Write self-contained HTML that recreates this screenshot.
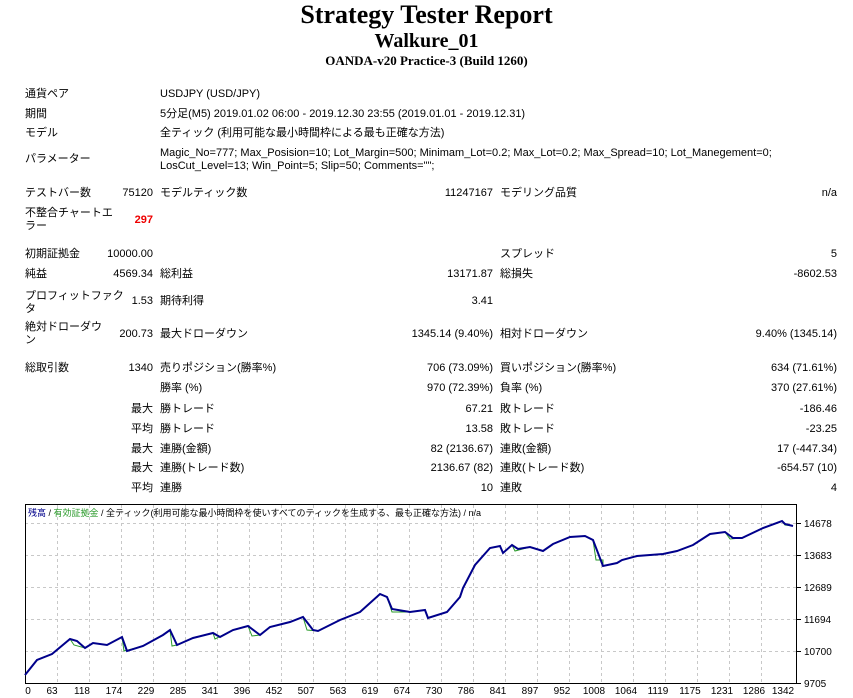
<!DOCTYPE html>
<html><head><meta charset="utf-8"><style>
body{margin:0;width:853px;height:698px;background:#fff;position:relative;overflow:hidden;font-family:"Liberation Sans","Noto Sans CJK JP",sans-serif;font-size:11px;color:#000}
div{position:absolute;white-space:nowrap;line-height:13px}
.t{font-family:"Liberation Serif",serif;font-weight:bold;left:0;width:853px;text-align:center}
.a{right:700px}.b{right:360px}.c{right:16px}
.L{left:25px}.M{left:160px}.N{left:500px}
</style></head><body>
<div class="t" style="top:0;font-size:26px;line-height:30px">Strategy Tester Report</div>
<div class="t" style="top:30px;font-size:20px;line-height:22px">Walkure_01</div>
<div class="t" style="top:53px;font-size:13px;line-height:15px">OANDA-v20 Practice-3 (Build 1260)</div>

<div class="L" style="top:88px">通貨ペア</div><div class="M" style="top:88px">USDJPY (USD/JPY)</div>
<div class="L" style="top:108px">期間</div><div class="M" style="top:108px">5分足(M5) 2019.01.02 06:00 - 2019.12.30 23:55 (2019.01.01 - 2019.12.31)</div>
<div class="L" style="top:127px">モデル</div><div class="M" style="top:127px">全ティック (利用可能な最小時間枠による最も正確な方法)</div>
<div class="L" style="top:153px">パラメーター</div>
<div class="M" style="top:147px">Magic_No=777; Max_Posision=10; Lot_Margin=500; Minimam_Lot=0.2; Max_Lot=0.2; Max_Spread=10; Lot_Manegement=0;</div>
<div class="M" style="top:160px">LosCut_Level=13; Win_Point=5; Slip=50; Comments="";</div>

<div class="L" style="top:187px">テストバー数</div><div class="a" style="top:187px">75120</div><div class="M" style="top:187px">モデルティック数</div><div class="b" style="top:187px">11247167</div><div class="N" style="top:187px">モデリング品質</div><div class="c" style="top:187px">n/a</div>
<div class="L" style="top:207px">不整合チャートエ</div><div class="L" style="top:220px">ラー</div><div class="a" style="top:214px;color:#e00;font-weight:bold">297</div>

<div class="L" style="top:248px">初期証拠金</div><div class="a" style="top:248px">10000.00</div><div class="N" style="top:248px">スプレッド</div><div class="c" style="top:248px">5</div>
<div class="L" style="top:268px">純益</div><div class="a" style="top:268px">4569.34</div><div class="M" style="top:268px">総利益</div><div class="b" style="top:268px">13171.87</div><div class="N" style="top:268px">総損失</div><div class="c" style="top:268px">-8602.53</div>
<div class="L" style="top:290px">プロフィットファク</div><div class="L" style="top:303px">タ</div><div class="a" style="top:295px">1.53</div><div class="M" style="top:295px">期待利得</div><div class="b" style="top:295px">3.41</div>
<div class="L" style="top:321px">絶対ドローダウ</div><div class="L" style="top:334px">ン</div><div class="a" style="top:328px">200.73</div><div class="M" style="top:328px">最大ドローダウン</div><div class="b" style="top:328px">1345.14 (9.40%)</div><div class="N" style="top:328px">相対ドローダウン</div><div class="c" style="top:328px">9.40% (1345.14)</div>

<div class="L" style="top:362px">総取引数</div><div class="a" style="top:362px">1340</div><div class="M" style="top:362px">売りポジション(勝率%)</div><div class="b" style="top:362px">706 (73.09%)</div><div class="N" style="top:362px">買いポジション(勝率%)</div><div class="c" style="top:362px">634 (71.61%)</div>
<div class="M" style="top:382px">勝率 (%)</div><div class="b" style="top:382px">970 (72.39%)</div><div class="N" style="top:382px">負率 (%)</div><div class="c" style="top:382px">370 (27.61%)</div>
<div class="a" style="top:403px">最大</div><div class="M" style="top:403px">勝トレード</div><div class="b" style="top:403px">67.21</div><div class="N" style="top:403px">敗トレード</div><div class="c" style="top:403px">-186.46</div>
<div class="a" style="top:423px">平均</div><div class="M" style="top:423px">勝トレード</div><div class="b" style="top:423px">13.58</div><div class="N" style="top:423px">敗トレード</div><div class="c" style="top:423px">-23.25</div>
<div class="a" style="top:443px">最大</div><div class="M" style="top:443px">連勝(金額)</div><div class="b" style="top:443px">82 (2136.67)</div><div class="N" style="top:443px">連敗(金額)</div><div class="c" style="top:443px">17 (-447.34)</div>
<div class="a" style="top:462px">最大</div><div class="M" style="top:462px">連勝(トレード数)</div><div class="b" style="top:462px">2136.67 (82)</div><div class="N" style="top:462px">連敗(トレード数)</div><div class="c" style="top:462px">-654.57 (10)</div>
<div class="a" style="top:482px">平均</div><div class="M" style="top:482px">連勝</div><div class="b" style="top:482px">10</div><div class="N" style="top:482px">連敗</div><div class="c" style="top:482px">4</div>

<svg style="position:absolute;left:0;top:0" width="853" height="698">
<g stroke="#c8c8c8" stroke-dasharray="3,3" stroke-width="1">
<line x1="25" x2="797" y1="523.5" y2="523.5"/><line x1="25" x2="797" y1="555.5" y2="555.5"/><line x1="25" x2="797" y1="587.5" y2="587.5"/><line x1="25" x2="797" y1="619.5" y2="619.5"/><line x1="25" x2="797" y1="651.5" y2="651.5"/>
<line y1="505" y2="683" x1="57.5" x2="57.5"/><line y1="505" y2="683" x1="89.5" x2="89.5"/><line y1="505" y2="683" x1="121.5" x2="121.5"/><line y1="505" y2="683" x1="153.5" x2="153.5"/><line y1="505" y2="683" x1="185.5" x2="185.5"/><line y1="505" y2="683" x1="217.5" x2="217.5"/><line y1="505" y2="683" x1="249.5" x2="249.5"/><line y1="505" y2="683" x1="281.5" x2="281.5"/><line y1="505" y2="683" x1="313.5" x2="313.5"/><line y1="505" y2="683" x1="345.5" x2="345.5"/><line y1="505" y2="683" x1="377.5" x2="377.5"/><line y1="505" y2="683" x1="409.5" x2="409.5"/><line y1="505" y2="683" x1="441.5" x2="441.5"/><line y1="505" y2="683" x1="473.5" x2="473.5"/><line y1="505" y2="683" x1="505.5" x2="505.5"/><line y1="505" y2="683" x1="537.5" x2="537.5"/><line y1="505" y2="683" x1="569.5" x2="569.5"/><line y1="505" y2="683" x1="601.5" x2="601.5"/><line y1="505" y2="683" x1="633.5" x2="633.5"/><line y1="505" y2="683" x1="665.5" x2="665.5"/><line y1="505" y2="683" x1="697.5" x2="697.5"/><line y1="505" y2="683" x1="729.5" x2="729.5"/><line y1="505" y2="683" x1="761.5" x2="761.5"/>
</g>
<rect x="25.5" y="504.5" width="771" height="179" fill="none" stroke="#000"/>
<g stroke="#000"><line x1="797" x2="801" y1="523.5" y2="523.5"/><line x1="797" x2="801" y1="555.5" y2="555.5"/><line x1="797" x2="801" y1="587.5" y2="587.5"/><line x1="797" x2="801" y1="619.5" y2="619.5"/><line x1="797" x2="801" y1="651.5" y2="651.5"/><line x1="797" x2="801" y1="683.5" y2="683.5"/></g>
<polyline fill="none" stroke="#2a9a2a" stroke-width="1" points="25,675 37,660 52,654 70,639 74,645 85,648 93,643 107,645 122,637 124,651 143,646 163,635 170,630 172,646 177,645 193,638 213,633 215,639 233,630 248,626 252,636 260,635 270,627 290,622 303,617 307,630 318,631 340,620 360,612 380,594 387,597 392,612 410,612 425,610 428,618 447,612 460,597 463,588 475,565 490,548 500,546 503,553 512,545 515,551 530,547 543,551 553,544 570,537 585,536 593,540 596,560 603,560 603,566 617,563 622,560 637,556 650,555 663,554 677,551 693,545 710,534 725,532 730,539 742,538 763,528 782,521 785,525 793,526"/>
<polyline fill="none" stroke="#00008b" stroke-width="2" points="25,675 37,660 52,654 70,639 77,641 85,648 93,643 107,645 122,637 127,651 143,646 163,635 170,630 177,645 193,638 213,633 220,637 233,630 248,626 260,635 270,627 290,622 303,617 313,630 318,631 340,620 360,612 380,594 387,597 392,609 410,612 425,610 428,618 447,612 460,597 463,588 475,565 490,548 500,546 503,553 512,545 518,549 530,547 543,551 553,544 570,537 585,536 593,540 603,566 617,563 622,560 637,556 650,555 663,554 677,551 693,545 710,534 725,532 733,538 742,538 763,528 782,521 785,524 793,526"/>
<g font-family="Liberation Sans,sans-serif" font-size="10" fill="#000">
<text x="804" y="527">14678</text><text x="804" y="559">13683</text><text x="804" y="591">12689</text><text x="804" y="623">11694</text><text x="804" y="655">10700</text><text x="804" y="687">9705</text>
<g text-anchor="middle"><text x="28" y="694">0</text><text x="52" y="694">63</text><text x="82" y="694">118</text><text x="114" y="694">174</text><text x="146" y="694">229</text><text x="178" y="694">285</text><text x="210" y="694">341</text><text x="242" y="694">396</text><text x="274" y="694">452</text><text x="306" y="694">507</text><text x="338" y="694">563</text><text x="370" y="694">619</text><text x="402" y="694">674</text><text x="434" y="694">730</text><text x="466" y="694">786</text><text x="498" y="694">841</text><text x="530" y="694">897</text><text x="562" y="694">952</text><text x="594" y="694">1008</text><text x="626" y="694">1064</text><text x="658" y="694">1119</text><text x="690" y="694">1175</text><text x="722" y="694">1231</text><text x="754" y="694">1286</text><text x="783" y="694">1342</text></g>
</g>
<text x="28" y="516" font-family="Liberation Sans,Noto Sans CJK JP,sans-serif" font-size="9"><tspan fill="#00008b">残高</tspan> / <tspan fill="#2a9a2a">有効証拠金</tspan> / 全ティック(利用可能な最小時間枠を使いすべてのティックを生成する、最も正確な方法) / n/a</text>
</svg>
</body></html>
